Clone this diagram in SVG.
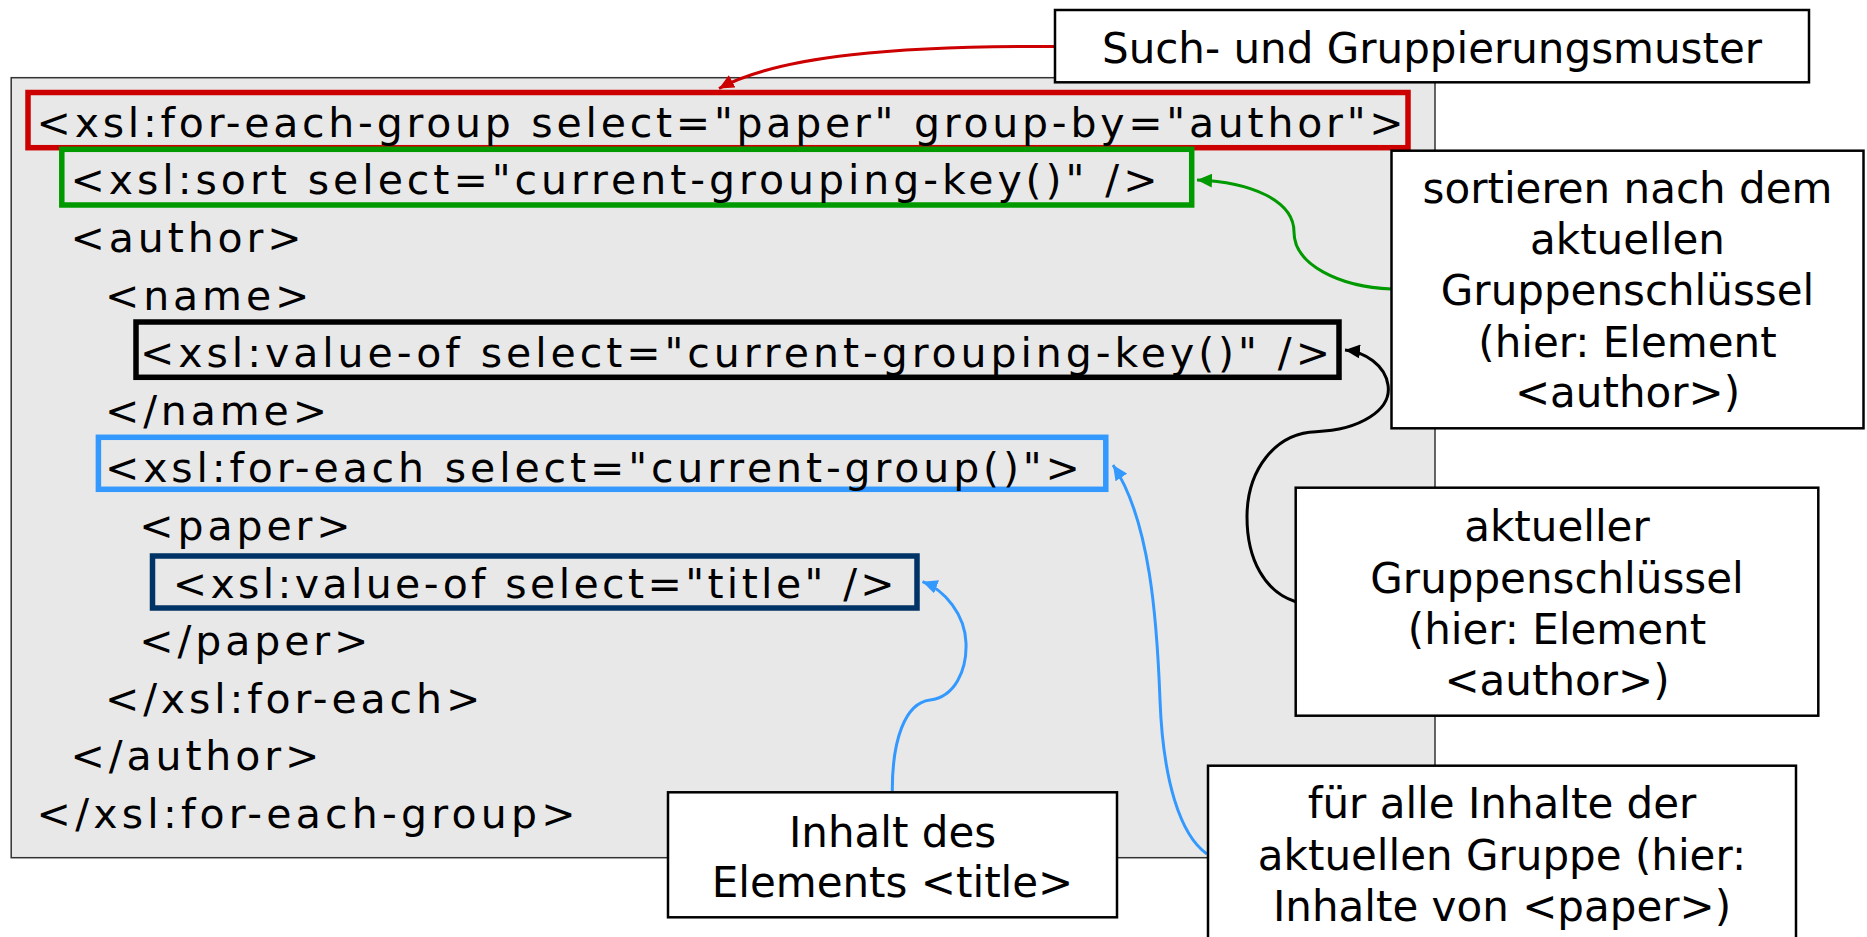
<svg xmlns="http://www.w3.org/2000/svg" width="1867" height="937" viewBox="0 0 1867 937">
  <style>
    .code { font-family: "DejaVu Sans", "Liberation Sans", sans-serif; font-size: 41px; fill: #000; }
    .sp { letter-spacing: 3.9px; }
    .lbl { font-family: "DejaVu Sans", "Liberation Sans", sans-serif; font-size: 42px; fill: #000; text-anchor: middle; }
    .hl { fill: none; stroke-width: 5.5; }
    .note { fill: #fff; stroke: #000; stroke-width: 2.5; }
    .conn { fill: none; stroke-width: 3; }
  </style>
  <defs>
    <marker id="ah-red" markerUnits="userSpaceOnUse" markerWidth="18" markerHeight="14" refX="15" refY="7" orient="auto">
      <path d="M0,0 L15,7 L0,14 z" fill="#cc0000"/>
    </marker>
    <marker id="ah-green" markerUnits="userSpaceOnUse" markerWidth="18" markerHeight="14" refX="15" refY="7" orient="auto">
      <path d="M0,0 L15,7 L0,14 z" fill="#009900"/>
    </marker>
    <marker id="ah-black" markerUnits="userSpaceOnUse" markerWidth="18" markerHeight="14" refX="15" refY="7" orient="auto">
      <path d="M0,0 L15,7 L0,14 z" fill="#000"/>
    </marker>
    <marker id="ah-blue" markerUnits="userSpaceOnUse" markerWidth="18" markerHeight="14" refX="15" refY="7" orient="auto">
      <path d="M0,0 L15,7 L0,14 z" fill="#3399ff"/>
    </marker>
  </defs>

  <rect width="1867" height="937" fill="#fff"/>

  <!-- XSLT listing -->
  <g id="listing">
    <rect x="11.2" y="77.7" width="1423.8" height="780" fill="#e8e8e8" stroke="#333" stroke-width="1.5"/>
    <rect class="hl" x="28" y="92.5" width="1380" height="55.2" stroke="#cc0000"/>
    <rect class="hl" x="61.8" y="149.3" width="1129.9" height="55.7" stroke="#009900"/>
    <rect class="hl" x="136" y="322" width="1203" height="55.3" stroke="#000"/>
    <rect class="hl" x="98.4" y="437.3" width="1007.4" height="52" stroke="#3399ff"/>
    <rect class="hl" x="152.5" y="556" width="764.5" height="52" stroke="#003366"/>

    <text class="code" x="36.6" y="136.7" textLength="1367" lengthAdjust="spacing">&lt;xsl:for-each-group select="paper" group-by="author"&gt;</text>
    <text class="code" x="70.5" y="194.3" textLength="1087" lengthAdjust="spacing">&lt;xsl:sort select="current-grouping-key()" /&gt;</text>
    <text class="code sp" x="70.5" y="251.9">&lt;author&gt;</text>
    <text class="code sp" x="104.9" y="309.5">&lt;name&gt;</text>
    <text class="code" x="140" y="367.1" textLength="1190" lengthAdjust="spacing">&lt;xsl:value-of select="current-grouping-key()" /&gt;</text>
    <text class="code sp" x="104.9" y="424.7">&lt;/name&gt;</text>
    <text class="code" x="104.9" y="482.3" textLength="975" lengthAdjust="spacing">&lt;xsl:for-each select="current-group()"&gt;</text>
    <text class="code sp" x="139.3" y="539.9">&lt;paper&gt;</text>
    <text class="code" x="172.7" y="597.5" textLength="722" lengthAdjust="spacing">&lt;xsl:value-of select="title" /&gt;</text>
    <text class="code sp" x="139.3" y="655.1">&lt;/paper&gt;</text>
    <text class="code sp" x="104.9" y="712.7">&lt;/xsl:for-each&gt;</text>
    <text class="code sp" x="70.5" y="770.3">&lt;/author&gt;</text>
    <text class="code" x="36.6" y="827.9" textLength="539" lengthAdjust="spacing">&lt;/xsl:for-each-group&gt;</text>
  </g>

  <!-- callout connectors -->
  <g id="connectors">
    <path class="conn" stroke="#cc0000" marker-end="url(#ah-red)" d="M1055,46.5 C900,46 780,55 719,88.5"/>
    <path class="conn" stroke="#009900" marker-end="url(#ah-green)" d="M1391.5,289 C1340,287 1294,265 1294,232 C1294,200 1250,182 1197,180"/>
    <path class="conn" stroke="#000" marker-end="url(#ah-black)" d="M1295.7,601.7 C1265,592 1247,560 1247,517 C1247,470 1275,433 1316,431.7 C1360,430 1392,410 1388,385 C1385,365 1365,352 1345,350"/>
    <path class="conn" stroke="#3399ff" marker-end="url(#ah-blue)" d="M1207,854 C1180,835 1163,780 1160,700 C1157,620 1150,520 1113,465"/>
    <path class="conn" stroke="#3399ff" marker-end="url(#ah-blue)" d="M892.3,792 C892,740 905,703 930,700 C955,697 967,670 966,643 C965,615 945,590 922.5,581.7"/>
  </g>

  <!-- callout notes -->
  <g id="note-pattern">
    <rect class="note" x="1055" y="10" width="754" height="72.3"/>
    <text class="lbl" x="1432" y="63.3">Such- und Gruppierungsmuster</text>
  </g>
  <g id="note-sort">
    <rect class="note" x="1391.5" y="150.7" width="472" height="277.6"/>
    <text class="lbl" x="1627.5" y="203.3">sortieren nach dem</text>
    <text class="lbl" x="1627.5" y="254">aktuellen</text>
    <text class="lbl" x="1627.5" y="305">Gruppenschlüssel</text>
    <text class="lbl" x="1627.5" y="356.7">(hier: Element</text>
    <text class="lbl" x="1627.5" y="407.3">&lt;author&gt;)</text>
  </g>
  <g id="note-key">
    <rect class="note" x="1295.7" y="487.7" width="522.6" height="228"/>
    <text class="lbl" x="1557" y="540.7">aktueller</text>
    <text class="lbl" x="1557" y="592.7">Gruppenschlüssel</text>
    <text class="lbl" x="1557" y="644">(hier: Element</text>
    <text class="lbl" x="1557" y="695">&lt;author&gt;)</text>
  </g>
  <g id="note-group">
    <rect class="note" x="1208" y="765.7" width="588" height="185"/>
    <text class="lbl" x="1502" y="818.3">für alle Inhalte der</text>
    <text class="lbl" x="1502" y="870">aktuellen Gruppe (hier:</text>
    <text class="lbl" x="1502" y="920.7">Inhalte von &lt;paper&gt;)</text>
  </g>
  <g id="note-title">
    <rect class="note" x="668" y="792.3" width="449" height="125"/>
    <text class="lbl" x="892.5" y="846.7">Inhalt des</text>
    <text class="lbl" x="892.5" y="896.7">Elements &lt;title&gt;</text>
  </g>
</svg>
